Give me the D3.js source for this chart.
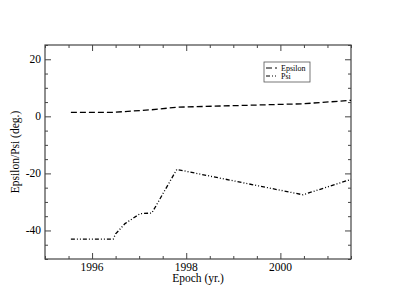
<!DOCTYPE html>
<meta charset="utf-8">
<style>
    body { margin: 0; background: #fff; }
    text { font-family: "Liberation Serif", "DejaVu Serif", serif; fill: #000; }
    .axis path { display: none; }
    .axis line { stroke: #444; }
    .frame { fill: none; stroke: #444; stroke-width: 1.2; }
</style>
<body>
<script src="https://cdn.jsdelivr.net/npm/d3@7"></script>
<script>
    // series
    var epsYears = [1995.55, 1996.45, 1997.27, 1997.8, 2000.48, 2001.5];
    var epsValues = [1.4, 1.4, 2.3, 3.2, 4.4, 5.6];
    var psiYears = [1995.55, 1996.45, 1996.5, 1996.7, 1997.02, 1997.27, 1997.8, 2000.48, 2001.5];
    var psiValues = [-43.0, -43.0, -41.2, -37.6, -34.1, -33.9, -18.6, -27.5, -22.1];
    var xTicks = [1996, 1998, 2000];
    var yTicks = [-40, -20, 0, 20];
    var seriesNames = ["Epsilon", "Psi"];

    var W = 395, H = 305;
    var margin = {top: 45, right: 44, bottom: 46, left: 45},
        width = W - margin.left - margin.right,
        height = H - margin.top - margin.bottom;

    var x = d3.scaleLinear().domain([1995, 2001.5]).range([0, width]);
    var y = d3.scaleLinear().domain([-50, 25]).range([height, 0]);

    var svg = d3.select("body").append("svg")
        .attr("width", W).attr("height", H)
        .append("g")
        .attr("transform", "translate(" + margin.left + "," + margin.top + ")");

    var xMinor = d3.range(1995, 2001.51, 0.5).filter(function(v) { return xTicks.indexOf(v) < 0; });
    var yMinor = d3.range(-50, 25.1, 5).filter(function(v) { return yTicks.indexOf(v) < 0; });

    // ticks, all four sides, pointing inward
    function ticks(axis, vals, size, tr) {
        svg.append("g").attr("class", "axis").attr("transform", tr)
            .call(axis.tickValues(vals).tickSize(size).tickFormat(""));
    }
    ticks(d3.axisTop(x), xMinor, 3, "translate(0," + height + ")");
    ticks(d3.axisTop(x), xTicks, 6, "translate(0," + height + ")");
    ticks(d3.axisBottom(x), xMinor, 3, "translate(0,0)");
    ticks(d3.axisBottom(x), xTicks, 6, "translate(0,0)");
    ticks(d3.axisRight(y), yMinor, 3, "translate(0,0)");
    ticks(d3.axisRight(y), yTicks, 6, "translate(0,0)");
    ticks(d3.axisLeft(y), yMinor, 3, "translate(" + width + ",0)");
    ticks(d3.axisLeft(y), yTicks, 6, "translate(" + width + ",0)");

    svg.selectAll(".xlab").data(xTicks).enter().append("text")
        .attr("x", function(d) { return x(d); })
        .attr("y", height + 12)
        .attr("text-anchor", "middle")
        .style("font-size", "11.5px")
        .text(function(d) { return d; });

    svg.selectAll(".ylab").data(yTicks).enter().append("text")
        .attr("x", -4)
        .attr("y", function(d) { return y(d); })
        .attr("dy", "0.35em")
        .attr("text-anchor", "end")
        .style("font-size", "11.5px")
        .text(function(d) { return d; });

    svg.append("rect").attr("class", "frame")
        .attr("width", width).attr("height", height);

    svg.append("text")
        .attr("x", width / 2).attr("y", height + 22.5)
        .attr("text-anchor", "middle")
        .style("font-size", "11.5px")
        .text("Epoch (yr.)");

    svg.append("text")
        .attr("transform", "translate(-26," + (height / 2) + ") rotate(-90)")
        .attr("text-anchor", "middle")
        .style("font-size", "11.5px")
        .text("Epsilon/Psi (deg.)");

    var line = d3.line()
        .x(function(d) { return x(d[0]); })
        .y(function(d) { return y(d[1]); });

    var dashes = ["6,3", "4,2,1,2,1,2"];
    var series = [d3.zip(epsYears, epsValues), d3.zip(psiYears, psiValues)];

    series.forEach(function(s, i) {
        svg.append("path").datum(s)
            .attr("d", line)
            .attr("fill", "none")
            .attr("stroke", "#000")
            .attr("stroke-width", 1.3)
            .attr("stroke-dasharray", dashes[i]);
    });

    // legend
    var lg = svg.append("g").attr("transform", "translate(" + (264 - margin.left) + "," + (62 - margin.top) + ")");
    lg.append("rect").attr("width", 46).attr("height", 20)
        .attr("fill", "#fff").attr("stroke", "#555").attr("stroke-width", 0.8);
    seriesNames.forEach(function(n, i) {
        var yy = 6 + i * 8;
        lg.append("line").attr("x1", 2).attr("x2", 13).attr("y1", yy).attr("y2", yy)
            .attr("stroke", "#000").attr("stroke-width", 1)
            .attr("stroke-dasharray", dashes[i]);
        lg.append("text").attr("x", 17).attr("y", yy).attr("dy", "0.32em")
            .style("font-size", "8px").text(n);
    });
</script>
